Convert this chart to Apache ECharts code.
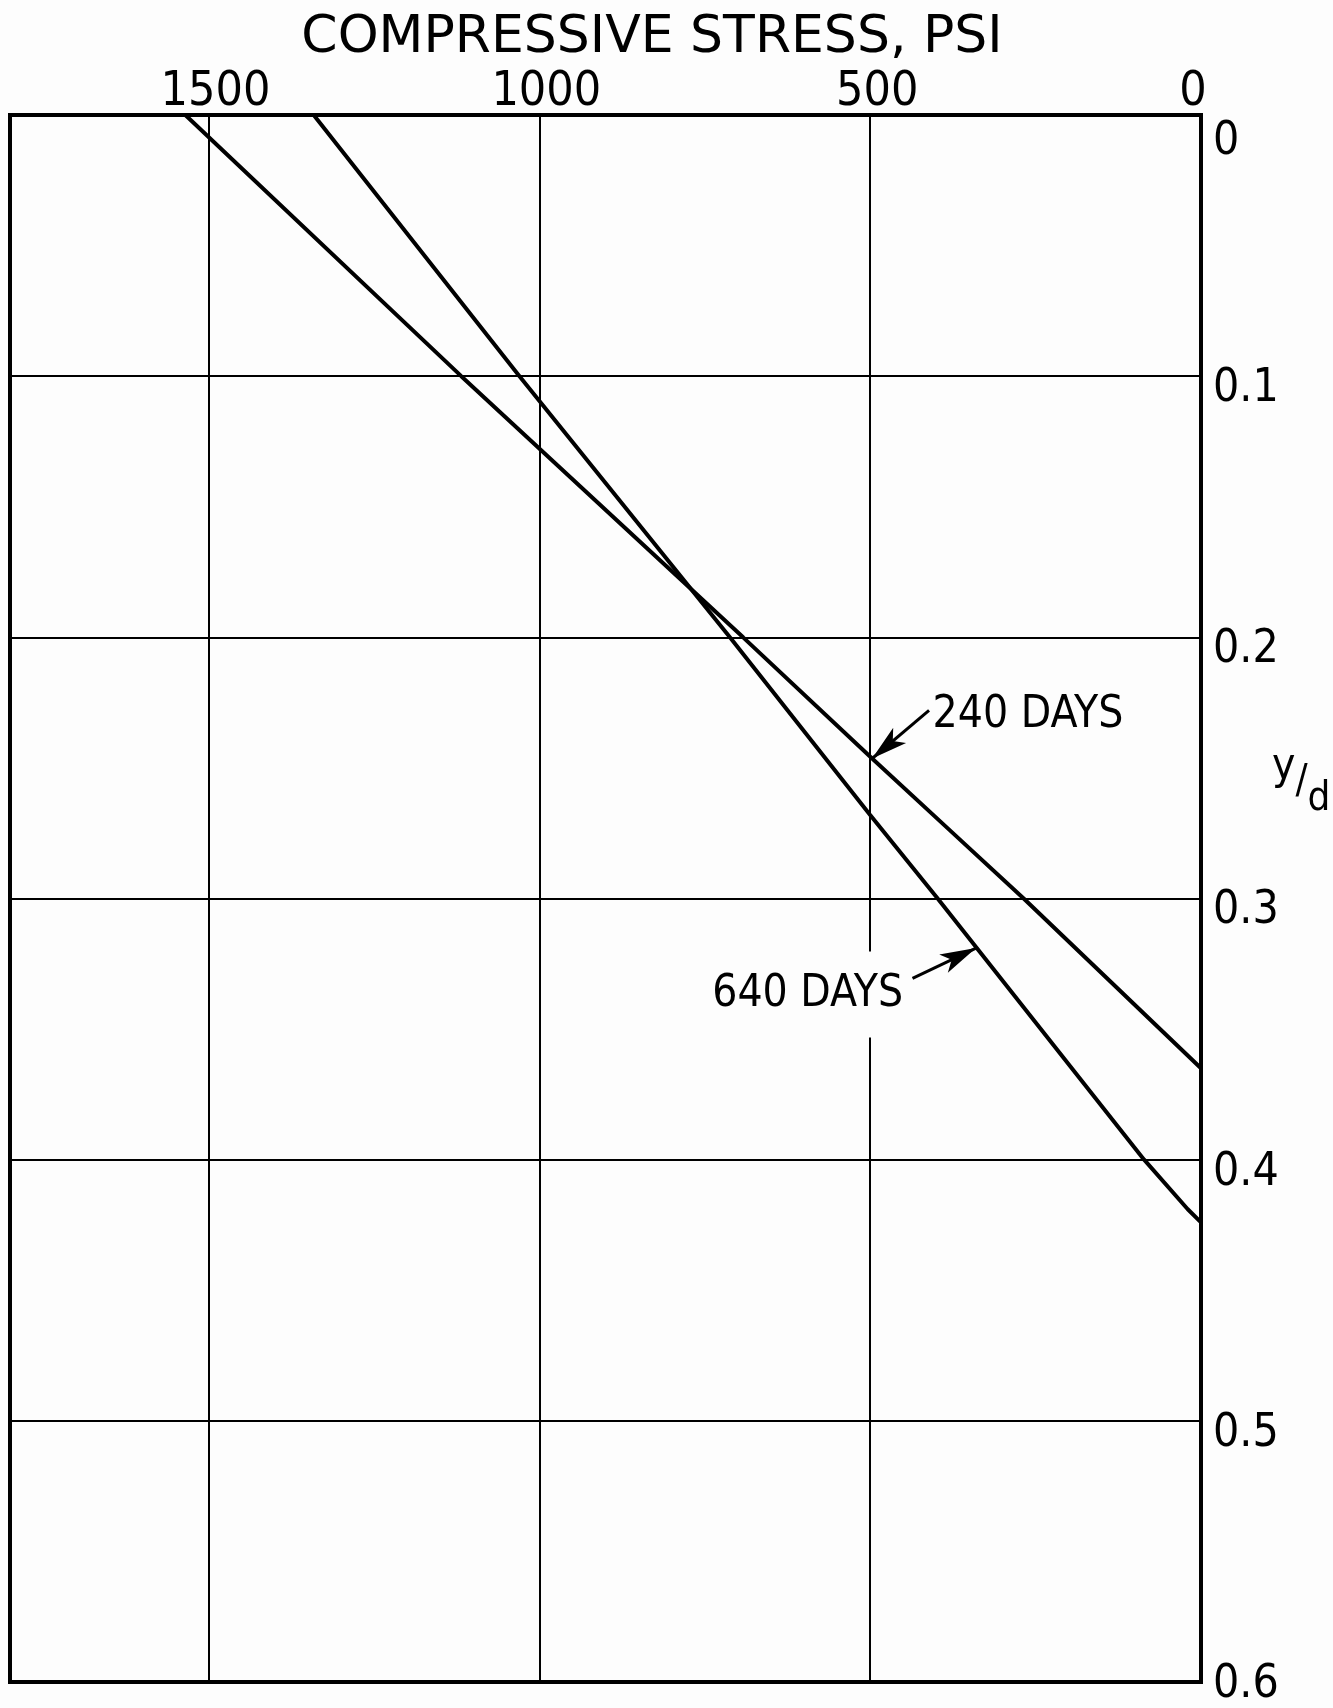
<!DOCTYPE html>
<html>
<head>
<meta charset="utf-8">
<script src="https://cdn.jsdelivr.net/npm/echarts@6/dist/echarts.min.js"></script>
<style>
  html, body { margin: 0; padding: 0; background: #fdfdfd; }
  #chart { width: 1333px; height: 1708px; }
</style>
</head>
<body>
<div id="chart"></div>
<script>
// Compressive stress (psi) vs depth ratio y/d
const stress240 = [1535, 1118, 692, 497, 379, 268, 0];
const depth240  = [0, 0.1, 0.2, 0.2464, 0.274, 0.3, 0.365];
const stress640 = [1341, 1030, 712, 500, 398, 86, 20, 0];
const depth640  = [0, 0.1, 0.2, 0.268, 0.3, 0.4, 0.419, 0.424];
// annotation arrows: [stress, depth] of tail and tip
const arrow240Tail = [411, 0.228];
const arrow240Tip  = [497, 0.2464];
const arrow640Tail = [436, 0.3306];
const arrow640Tip  = [340, 0.319];
const label240 = '240 DAYS';
const label640 = '640 DAYS';
const xTitle = 'COMPRESSIVE STRESS, PSI';

const FONT = "'DejaVu Sans Condensed', 'DejaVu Sans', sans-serif";
const pair = (xs, ys) => xs.map((x, i) => [x, ys[i]]);

const chart = echarts.init(document.getElementById('chart'), null, { renderer: 'canvas' });

function arrowLine(tail, tip) {
  return {
    silent: true,
    symbol: ['none', 'arrow'],
    symbolSize: 12,
    label: { show: false },
    lineStyle: { color: '#000', width: 3, type: 'solid' },
    emphasis: { disabled: true },
    data: [[
      { coord: tail, symbol: 'none', symbolSize: 1 },
      { coord: tip, symbol: 'arrow', symbolSize: [15, 36] }
    ]]
  };
}

chart.setOption({
  animation: false,
  backgroundColor: '#fdfdfd',
  grid: {
    left: 10, right: 132, top: 115, bottom: 10,
    show: true, borderColor: '#000', borderWidth: 4, backgroundColor: 'transparent'
  },
  xAxis: {
    type: 'value', position: 'top', inverse: true,
    min: 0, max: 1800, interval: 500,
    axisLine: { show: false }, axisTick: { show: false },
    axisLabel: {
      showMaxLabel: false, margin: -2, color: '#000',
      fontFamily: FONT, fontSize: 48,
      formatter: v => (v === 0 ? '{r|0}' : '{l|' + v + '}'),
      rich: {
        l: { fontFamily: FONT, fontSize: 48, padding: [0, 0, 0, 14] },
        r: { fontFamily: FONT, fontSize: 48, padding: [0, 16, 0, 0] }
      }
    },
    splitLine: { show: true, lineStyle: { color: '#000', width: 2 } }
  },
  yAxis: {
    type: 'value', position: 'right', inverse: true,
    min: 0, max: 0.6, interval: 0.1,
    axisLine: { show: false }, axisTick: { show: false },
    axisLabel: {
      margin: 12, color: '#000', fontFamily: FONT, fontSize: 46,
      formatter: v => {
        if (v === 0) return '{z|0}';
        if (Math.abs(v - 0.6) < 1e-9) return '{e|0.6}';
        return '{m|' + v.toFixed(1) + '}';
      },
      rich: {
        z: { fontFamily: FONT, fontSize: 46, padding: [54, 0, 0, 0] },
        m: { fontFamily: FONT, fontSize: 46, padding: [26, 0, 0, 0] },
        e: { fontFamily: FONT, fontSize: 46, padding: [6, 0, 0, 0] }
      }
    },
    splitLine: { show: true, lineStyle: { color: '#000', width: 2 } }
  },
  graphic: [
    {
      type: 'text', x: 652, y: 38, z: 10,
      style: {
        text: xTitle, fill: '#000', font: "52px 'DejaVu Sans', sans-serif",
        align: 'center', verticalAlign: 'middle'
      }
    },
    {
      type: 'text', x: 1272, y: 746, z: 10,
      style: {
        text: '{a|y}{b|/}{c|d}', fill: '#000',
        align: 'left', verticalAlign: 'top',
        rich: {
          a: { fontFamily: FONT, fontSize: 44, verticalAlign: 'top', lineHeight: 74 },
          b: { fontFamily: FONT, fontSize: 40, verticalAlign: 'middle', lineHeight: 74 },
          c: { fontFamily: FONT, fontSize: 40, verticalAlign: 'bottom', lineHeight: 74 }
        }
      }
    }
  ],
  series: [
    {
      name: '240 DAYS', type: 'line', data: pair(stress240, depth240),
      showSymbol: false, symbol: 'none', smooth: false,
      lineStyle: { color: '#000', width: 4 },
      emphasis: { disabled: true },
      markLine: arrowLine(arrow240Tail, arrow240Tip),
      markPoint: {
        silent: true, symbol: 'circle', symbolSize: 1,
        itemStyle: { color: 'rgba(0,0,0,0)' },
        data: [{ coord: arrow240Tail }],
        label: {
          show: true, position: 'right', distance: 3, formatter: label240,
          color: '#000', fontFamily: FONT, fontSize: 44, offset: [0, 5]
        }
      }
    },
    {
      name: '640 DAYS', type: 'line', data: pair(stress640, depth640),
      showSymbol: false, symbol: 'none', smooth: false,
      lineStyle: { color: '#000', width: 4 },
      emphasis: { disabled: true },
      markLine: arrowLine(arrow640Tail, arrow640Tip),
      markPoint: {
        silent: true, symbol: 'circle', symbolSize: 1,
        itemStyle: { color: 'rgba(0,0,0,0)' },
        data: [{ coord: arrow640Tail }],
        label: {
          show: true, position: 'left', distance: 7, formatter: label640,
          color: '#000', fontFamily: FONT, fontSize: 44, offset: [0, 16],
          backgroundColor: '#fdfdfd', padding: [13, 2, 29, 2]
        }
      }
    }
  ]
});
</script>
</body>
</html>
